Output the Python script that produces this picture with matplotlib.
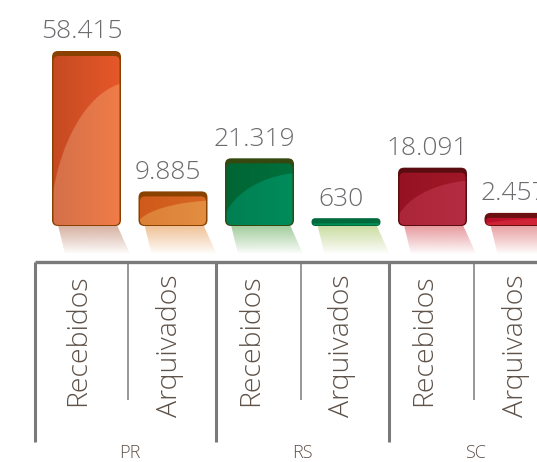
import numpy as np
import matplotlib.pyplot as plt
from matplotlib.patches import FancyBboxPatch, Polygon
from matplotlib.colors import to_rgb

# ---------------- data ----------------
estados = ['PR', 'RS', 'SC']
tipos = ['Recebidos', 'Arquivados']
valores = [58415, 9885, 21319, 630, 18091, 2457]
rotulos = ['58.415', '9.885', '21.319', '630', '18.091', '2.457']

# ---------------- style ----------------
# (cap, body left, body right, gloss left, gloss right, reflection)
cores = [
    ('#8a4000', '#c54a22', '#e6582a', '#d4704a', '#f07c48', '#d6b0a0'),
    ('#8a4200', '#cf5a1c', '#d86620', '#dc8038', '#e28e40', '#f0c196'),
    ('#34480f', '#006534', '#00703c', '#007f52', '#008c5c', '#a2cc9c'),
    ('#006a3c', '#00804c', '#00905a', '#00905a', '#00905a', '#cadca0'),
    ('#5a0c10', '#961222', '#a01828', '#ac2638', '#b42c42', '#e79a9e'),
    ('#6a1010', '#b8102a', '#c8182e', '#d02436', '#d02436', '#e9a0a2'),
]
cinza_txt = '#6a6b6e'
cinza_cat = '#5e5249'
cinza_lin = '#7a7a7a'
fonte = ['Open Sans', 'DejaVu Sans']
peso = 'light'

W, H = 537, 462
fig = plt.figure(figsize=(W / 100, H / 100), dpi=100)
ax = fig.add_axes([0, 0, 1, 1])
ax.axis('off')

PX = 86.5                 # pixels per category
PY = max(valores) / 169   # data units per pixel (y)
BASE = 225                # baseline, pixels from top
ASP = PY * PX             # y units per x unit, for equal pixels
xmin, xmax = -1.0, (W - PX) / PX
ymin, ymax = -(H - BASE) * PY, BASE * PY

larg = 69 / PX


def caixa(x0, y0, w, h, r_px, **kw):
    r = min(r_px / PX, w / 2, (h / ASP) / 2)
    p = FancyBboxPatch((x0, y0), w, h, boxstyle='round,pad=0,rounding_size=%f' % r,
                       mutation_aspect=ASP, **kw)
    ax.add_patch(p)
    return p


nx, ny = 140, 400
u = np.linspace(0, 1, nx)[None, :]
t = np.linspace(0, 1, ny)[:, None]
dentro = ((u - 1.2) / 1.25) ** 2 + ((t + 0.1) / 0.95) ** 2 < 1

for i, v in enumerate(valores):
    cap, bl, br, gl, gr, refl = cores[i]
    x0 = i - larg / 2
    x1 = i + larg / 2
    topo = v + 5 * PY
    # reflexo
    pts = [(x0 + 6 / PX, 0), (x1 - 4 / PX, 0), (x1 + 9 / PX, -29 * PY), (x0 + 13 / PX, -29 * PY)]
    poly = Polygon(pts, closed=True, facecolor='none', edgecolor='none')
    ax.add_patch(poly)
    rgba = np.zeros((64, 1, 4))
    rgba[:, 0, :3] = to_rgb(refl)
    rgba[:, 0, 3] = np.linspace(1.0, 0.0, 64) ** 0.9
    im = ax.imshow(rgba, extent=[x0, x1 + 10 / PX, -29 * PY, 0], aspect='auto',
                   interpolation='bilinear', zorder=1)
    im.set_clip_path(poly)
    # tampa escura
    caixa(x0, -1 * PY, larg, topo + 1 * PY, 6, facecolor=cap, edgecolor='none', zorder=2)
    # corpo
    corpo = caixa(x0 + 1.5 / PX, 0, larg - 3 / PX, max(v, 1.5 * PY), 5,
                  facecolor='none', edgecolor='none', zorder=3)
    base = np.array(to_rgb(bl)) * (1 - u[..., None]) + np.array(to_rgb(br)) * u[..., None]
    brilho = np.array(to_rgb(gl)) * (1 - u[..., None]) + np.array(to_rgb(gr)) * u[..., None]
    img = np.where(dentro[..., None], brilho, base)
    im = ax.imshow(img, extent=[x0, x1, 0, max(v, 1.5 * PY)], origin='lower',
                   aspect='auto', interpolation='antialiased', zorder=3)
    im.set_clip_path(corpo)
    # valor
    ax.annotate(rotulos[i], (i, topo), xytext=(-3.6, 9), textcoords='offset points',
                ha='center', va='baseline', fontsize=19, color=cinza_txt,
                family=fonte, fontweight=peso)

# eixo e separadores
tr = ax.get_xaxis_transform()
y_eixo = (H - 262) / H
ax.plot([-0.6, xmax + 1], [y_eixo, y_eixo], color=cinza_lin, lw=2.4, transform=tr,
        solid_capstyle='butt', clip_on=False)
for g in range(len(estados)):
    xg = 2 * g - 0.6 + (0.1 if g else 0)
    ax.plot([xg, xg], [y_eixo, (H - 442) / H], color=cinza_lin, lw=2.2, transform=tr,
            solid_capstyle='butt')
    xs = 2 * g + 0.48
    ax.plot([xs, xs], [y_eixo, (H - 400) / H], color=cinza_lin, lw=1.1, transform=tr,
            solid_capstyle='butt')
    ax.text(2 * g + 0.5, (H - 461.5) / H, estados[g], transform=tr, ha='center',
            va='bottom', fontsize=13, color=cinza_cat, family=fonte, fontweight=peso)
    for k, nome in enumerate(tipos):
        xi = 2 * g + k + (-1.5 if k == 0 else 3.5) / PX
        ax.text(xi, (H - 274) / H, nome, transform=tr, rotation=90, rotation_mode='anchor',
                ha='right', va='baseline', fontsize=20.5, color=cinza_cat,
                family=fonte, fontweight=peso)

ax.set_xlim(xmin, xmax)
ax.set_ylim(ymin, ymax)
fig.savefig('out.png', dpi=100, facecolor='white')
